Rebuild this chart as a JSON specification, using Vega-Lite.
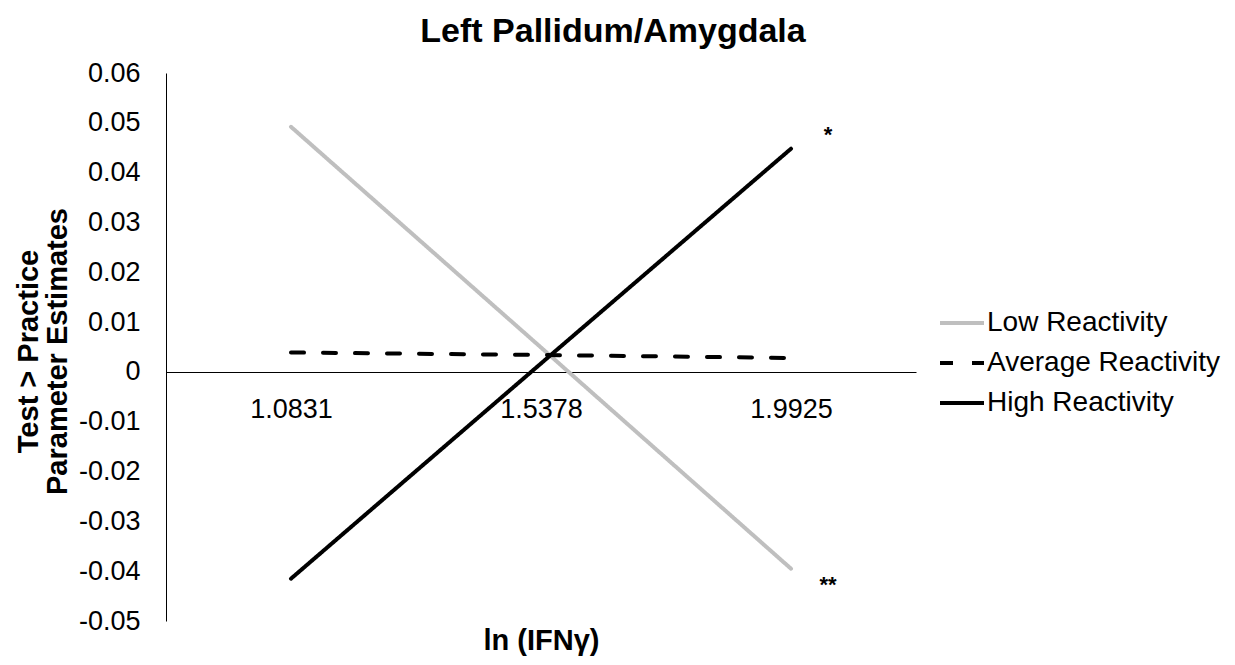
{
  "$schema": "https://vega.github.io/schema/vega-lite/v6.json",
  "autosize": {"type": "none"},
  "width": 750,
  "height": 548,
  "padding": {"left": 166, "top": 73, "right": 319, "bottom": 44},
  "background": "white",
  "config": {
    "view": {"stroke": null},
    "font": "Liberation Sans"
  },
  "title": {
    "text": "Left Pallidum/Amygdala",
    "font": "Liberation Sans",
    "fontSize": 34,
    "fontWeight": "bold",
    "color": "black",
    "anchor": "middle",
    "frame": "group",
    "dx": 72,
    "baseline": "bottom",
    "offset": -24
  },
  "datasets": {
    "lines": [
      {"level": "Low Reactivity", "x": "1.0831", "y": 0.0492},
      {"level": "Low Reactivity", "x": "1.5378", "y": 0.0049},
      {"level": "Low Reactivity", "x": "1.9925", "y": -0.0395},
      {"level": "Average Reactivity", "x": "1.0831", "y": 0.0039},
      {"level": "Average Reactivity", "x": "1.5378", "y": 0.0034},
      {"level": "Average Reactivity", "x": "1.9925", "y": 0.0028},
      {"level": "High Reactivity", "x": "1.0831", "y": -0.0415},
      {"level": "High Reactivity", "x": "1.5378", "y": 0.0017},
      {"level": "High Reactivity", "x": "1.9925", "y": 0.0448}
    ],
    "marks": [
      {"x": "1.9925", "y": 0.0475, "label": "*"},
      {"x": "1.9925", "y": -0.0428, "label": "**"}
    ]
  },
  "layer": [
    {
      "data": {"name": "lines"},
      "mark": {"type": "line", "strokeWidth": 4, "strokeCap": "round"},
      "encoding": {
        "x": {
          "field": "x",
          "type": "nominal",
          "sort": ["1.0831", "1.5378", "1.9925"],
          "scale": {"type": "point", "padding": 0.5},
          "axis": {
            "title": "ln (IFNγ)",
            "titleFont": "Liberation Sans",
            "titleFontSize": 29,
            "titleFontWeight": "bold",
            "titleColor": "black",
            "titleX": 375,
            "titleY": 277,
            "titleAlign": "center",
            "titleBaseline": "alphabetic",
            "offset": -249,
            "labelAngle": 0,
            "labelFont": "Liberation Sans",
            "labelFontSize": 27,
            "labelColor": "black",
            "labelPadding": 24,
            "ticks": false,
            "domainColor": "black",
            "domainWidth": 1,
            "grid": false
          }
        },
        "y": {
          "field": "y",
          "type": "quantitative",
          "scale": {"domain": [-0.05, 0.06], "nice": false, "zero": false},
          "axis": {
            "title": ["Test > Practice", "Parameter Estimates"],
            "titleFont": "Liberation Sans",
            "titleFontSize": 29,
            "titleFontWeight": "bold",
            "titleColor": "black",
            "titleLineHeight": 29,
            "titleX": -129,
            "titleY": 278,
            "titleAlign": "center",
            "titleBaseline": "alphabetic",
            "values": [-0.05, -0.04, -0.03, -0.02, -0.01, 0, 0.01, 0.02, 0.03, 0.04, 0.05, 0.06],
            "labelExpr": "replace(format(datum.value, '.2~f'), '\u2212', '-')",
            "labelFont": "Liberation Sans",
            "labelFontSize": 27,
            "labelColor": "black",
            "labelPadding": 26,
            "ticks": false,
            "domainColor": "black",
            "domainWidth": 1,
            "grid": false
          }
        },
        "color": {
          "field": "level",
          "type": "nominal",
          "scale": {
            "domain": ["Low Reactivity", "Average Reactivity", "High Reactivity"],
            "range": ["#BFBFBF", "#000000", "#000000"]
          },
          "legend": {
            "title": null,
            "orient": "none",
            "legendX": 772,
            "legendY": 226,
            "symbolType": "stroke",
            "symbolSize": 1936,
            "symbolStrokeWidth": 4,
            "labelFont": "Liberation Sans",
            "labelFontSize": 28,
            "labelColor": "black",
            "labelOffset": 1,
            "labelLimit": 0,
            "rowPadding": 2
          }
        },
        "strokeDash": {
          "field": "level",
          "type": "nominal",
          "scale": {
            "domain": ["Low Reactivity", "Average Reactivity", "High Reactivity"],
            "range": [[1, 0], [13, 19], [1, 0]]
          },
          "legend": {
            "title": null,
            "orient": "none",
            "legendX": 772,
            "legendY": 226,
            "symbolType": "stroke",
            "symbolSize": 1936,
            "symbolStrokeWidth": 4,
            "labelFont": "Liberation Sans",
            "labelFontSize": 28,
            "labelColor": "black",
            "labelOffset": 1,
            "labelLimit": 0,
            "rowPadding": 2
          }
        }
      }
    },
    {
      "data": {"name": "marks"},
      "mark": {"type": "text", "dx": 37, "fontSize": 22, "fontWeight": "bold", "font": "Liberation Sans", "color": "black", "baseline": "middle", "align": "center"},
      "encoding": {
        "x": {"field": "x", "type": "nominal", "sort": ["1.0831", "1.5378", "1.9925"]},
        "y": {"field": "y", "type": "quantitative"},
        "text": {"field": "label"}
      }
    }
  ]
}
